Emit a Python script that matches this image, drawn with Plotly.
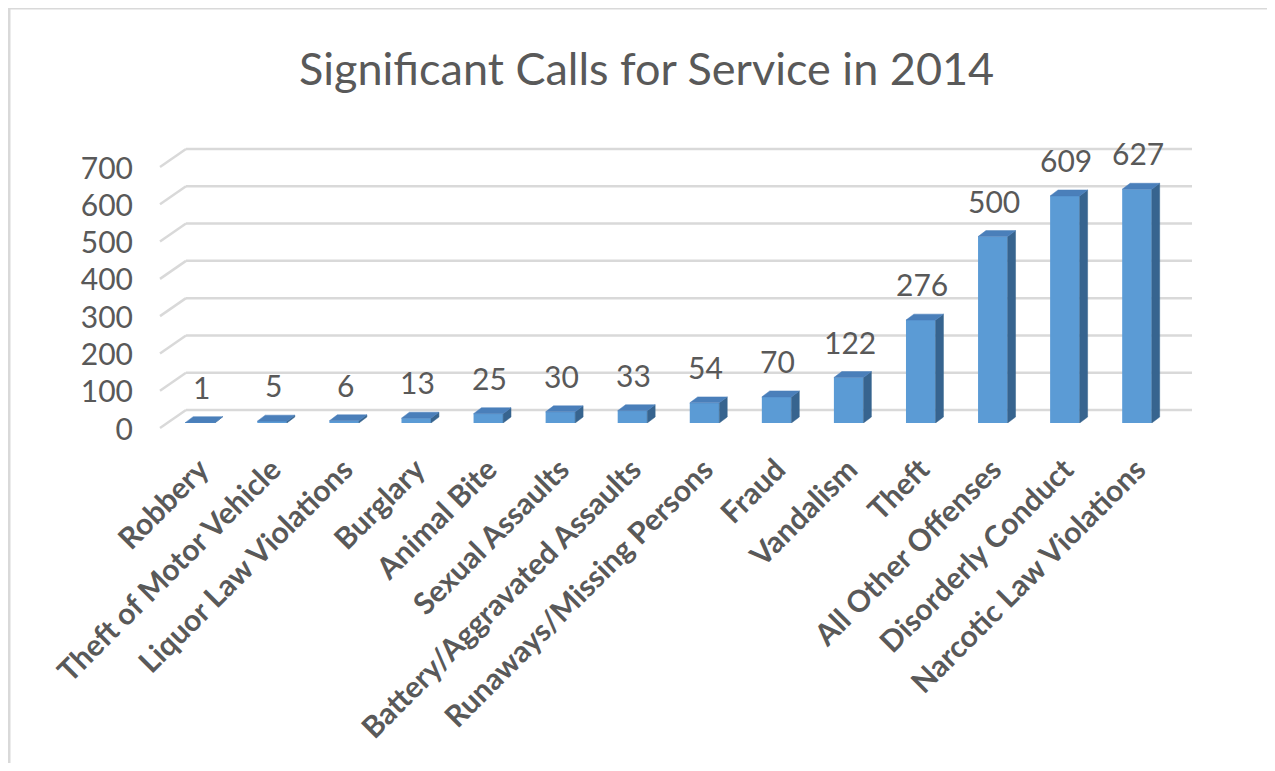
import plotly.graph_objects as go

categories = ["Robbery", "Theft of Motor Vehicle", "Liquor Law Violations", "Burglary",
              "Animal Bite", "Sexual Assaults", "Battery/Aggravated Assaults",
              "Runaways/Missing Persons", "Fraud", "Vandalism", "Theft",
              "All Other Offenses", "Disorderly Conduct", "Narcotic Law Violations"]
values = [1, 5, 6, 13, 25, 30, 33, 54, 70, 122, 276, 500, 609, 627]
y_ticks = [0, 100, 200, 300, 400, 500, 600, 700]
title_text = "Significant Calls for Service in 2014"

OFF = 8                            # page body margin
W, H = 1275 - OFF, 771 - 2 * OFF   # figure size so the page fits 1275x771
def xp(px): return (px - OFF) / W
def yp(py): return 1 - (py - OFF) / H

FONT = "Lato"
GREY = "#595959"
FRONT = "#5b9bd5"
TOP = "#4a7fba"
SIDE = "#37648f"

Y0_PX, Y700_PX = 423, 162     # bar plane: value 0 and 700 in page pixels
def ypx(v): return Y0_PX + (Y700_PX - Y0_PX) * v / 700.0

bw = 0.41      # bar width (category units)
ddx = 0.11     # depth in x (category units)
ddy = 16       # depth in y (value units)

xs = list(range(len(categories)))

fig = go.Figure()

# side faces
sx, sy = [], []
for i, v in zip(xs, values):
    r = i + bw / 2
    sx += [r, r + ddx, r + ddx, r, r, None]
    sy += [0, ddy, v + ddy, v, 0, None]
fig.add_trace(go.Scatter(x=sx, y=sy, mode="lines", fill="toself", fillcolor=SIDE,
                         line=dict(color=SIDE, width=0.5), hoverinfo="skip", showlegend=False))
# top faces
tx, ty = [], []
for i, v in zip(xs, values):
    l, r = i - bw / 2, i + bw / 2
    tx += [l, l + ddx, r + ddx, r, l, None]
    ty += [v, v + ddy, v + ddy, v, v, None]
fig.add_trace(go.Scatter(x=tx, y=ty, mode="lines", fill="toself", fillcolor=TOP,
                         line=dict(color=TOP, width=0.5), hoverinfo="skip", showlegend=False))
# front faces
fig.add_trace(go.Bar(x=xs, y=values, width=bw, marker=dict(color=FRONT, line=dict(width=0)),
                     showlegend=False))

# data labels
for i, v in zip(xs, values):
    fig.add_annotation(x=i, y=v, xref="x", yref="y", text=str(v), showarrow=False,
                       xshift=1, yshift=36, yanchor="middle",
                       font=dict(family=FONT, size=30, color=GREY))

# back-wall gridlines and floor/wall diagonals
for t in y_ticks:
    yb = ypx(t) - 13
    fig.add_shape(type="line", xref="paper", yref="paper",
                  x0=xp(186), x1=xp(1192), y0=yp(yb), y1=yp(yb),
                  line=dict(color="#d9d9d9", width=2.5), layer="below")
    fig.add_shape(type="line", xref="paper", yref="paper",
                  x0=xp(160), x1=xp(186), y0=yp(ypx(t) + 5), y1=yp(yb),
                  line=dict(color="#d9d9d9", width=2.5), layer="below")

# outer border (top and left edges visible)
fig.add_shape(type="line", xref="paper", yref="paper",
              x0=xp(9), x1=1, y0=yp(8), y1=yp(8),
              line=dict(color="#d9d9d9", width=3))
fig.add_shape(type="line", xref="paper", yref="paper",
              x0=xp(9), x1=xp(9), y0=yp(8), y1=0,
              line=dict(color="#d9d9d9", width=3))

fig.add_annotation(x=xp(646), y=yp(68), xref="paper", yref="paper", text=title_text,
                   showarrow=False, yanchor="middle", xanchor="center",
                   font=dict(family=FONT, size=45, color=GREY))

fig.update_layout(
    width=W, height=H, margin=dict(l=0, r=0, t=0, b=0),
    paper_bgcolor="white", plot_bgcolor="rgba(0,0,0,0)",
    xaxis=dict(domain=[xp(164), xp(1173)], range=[-0.5, 13.5], tickmode="array",
               tickvals=xs, ticktext=categories, tickangle=-45, showgrid=False,
               zeroline=False, showline=False, ticks="", automargin=False,
               ticklabelstandoff=22,
               tickfont=dict(family=FONT, size=30, color=GREY, weight="bold")),
    yaxis=dict(domain=[yp(Y0_PX), yp(Y700_PX)], range=[0, 700], tickvals=y_ticks,
               showgrid=False, zeroline=False, showline=False, ticks="",
               automargin=False, ticklabelstandoff=30, ticklabelshift=6,
               tickfont=dict(family=FONT, size=30, color=GREY)),
)

fig.write_html("out.html")
